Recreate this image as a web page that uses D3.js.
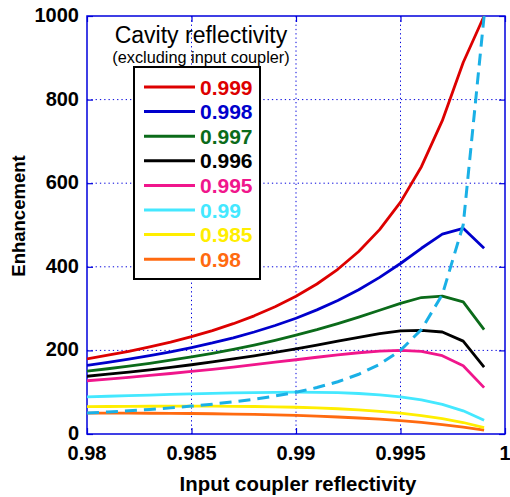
<!DOCTYPE html>
<html><head><meta charset="utf-8">
<script src="https://cdn.jsdelivr.net/npm/d3@7"></script>
<style>body{margin:0;background:#fff}svg{display:block}</style>
</head><body>
<script>
// Input coupler reflectivity (x)
const xValues = [0.980,0.981,0.982,0.983,0.984,0.985,0.986,0.987,0.988,0.989,0.990,0.991,0.992,0.993,0.994,0.995,0.996,0.997,0.998,0.999];
// Enhancement per cavity reflectivity
const e0999 = [179.9,188.5,197.9,208.4,220.0,233.0,247.5,263.9,282.7,304.3,329.4,358.9,394.0,436.5,488.9,554.8,639.5,749.6,888.7,1000.0];
const e0998 = [164.1,171.2,178.9,187.3,196.5,206.6,217.8,230.2,244.0,259.6,277.0,296.9,319.4,345.2,374.6,407.9,444.3,478.0,492.0,444.4];
const e0997 = [150.3,156.1,162.4,169.2,176.5,184.5,193.1,202.5,212.8,224.0,236.3,249.6,264.2,279.8,296.1,312.4,326.5,330.0,316.0,249.9];
const e0996 = [138.2,143.0,148.1,153.6,159.4,165.7,172.4,179.5,187.1,195.2,203.8,212.8,222.1,231.3,240.0,246.9,248.0,244.0,222.2,159.9];
const e0995 = [127.4,131.4,135.6,140.1,144.7,149.6,154.8,160.2,165.9,171.7,177.6,183.6,189.3,194.4,198.3,200.0,197.5,187.4,163.2,111.0];
const e0990 = [88.8,90.3,91.8,93.2,94.6,96.0,97.2,98.3,99.2,99.8,100.0,99.7,98.8,96.9,93.7,88.8,81.5,70.9,55.4,32.9];
const e0985 = [65.3,65.8,66.1,66.4,66.6,66.7,66.6,66.3,65.8,65.1,64.0,62.5,60.4,57.8,54.3,49.9,44.2,36.9,27.5,15.5];
const e0980 = [50.0,50.0,49.9,49.7,49.4,49.0,48.4,47.7,46.8,45.7,44.4,42.7,40.7,38.3,35.4,31.9,27.6,22.5,16.4,9.0];
// Impedance-matched (dashed)
const eMatched = [50.0,52.6,55.6,58.8,62.5,66.7,71.4,76.9,83.3,90.9,100.0,111.1,125.0,142.9,166.7,200.0,250.0,333.3,500.0,1000.0];

const seriesLabels = ["0.999","0.998","0.997","0.996","0.995","0.99","0.985","0.98"];
const seriesValues = [e0999,e0998,e0997,e0996,e0995,e0990,e0985,e0980];
const seriesColors = ["#dd0000","#0000cc","#0b6b1a","#000000","#f0168c","#44e8ff","#ffee00","#ff6a10"];
const xTicks = [0.98,0.985,0.99,0.995,1];
const xTickLabels = ["0.98","0.985","0.99","0.995","1"];
const yTicks = [0,200,400,600,800,1000];

const W=510,H=497;
const L=87,R=505,T=16,B=434;
const svg=d3.select("body").append("svg").attr("width",W).attr("height",H);
const x=d3.scaleLinear().domain([0.98,1]).range([L,R]);
const y=d3.scaleLinear().domain([0,1000]).range([B,T]);
const gridC="#0000dd";

// grid
const g=svg.append("g");
xTicks.slice(1,-1).forEach(v=>{
  g.append("line").attr("x1",x(v)).attr("x2",x(v)).attr("y1",T).attr("y2",B)
   .attr("stroke",gridC).attr("stroke-width",1).attr("stroke-dasharray","1.3,3");
});
yTicks.slice(1,-1).forEach(v=>{
  g.append("line").attr("x1",L).attr("x2",R).attr("y1",y(v)).attr("y2",y(v))
   .attr("stroke",gridC).attr("stroke-width",1).attr("stroke-dasharray","1.3,3");
});
// axes with inward ticks
const xAxB=svg.append("g").attr("transform",`translate(0,${B})`).call(d3.axisBottom(x).tickValues(xTicks).tickSize(-6).tickFormat(""));
const xAxT=svg.append("g").attr("transform",`translate(0,${T})`).call(d3.axisTop(x).tickValues(xTicks).tickSize(-6).tickFormat(""));
const yAxL=svg.append("g").attr("transform",`translate(${L},0)`).call(d3.axisLeft(y).tickValues(yTicks).tickSize(-6).tickFormat(""));
const yAxR=svg.append("g").attr("transform",`translate(${R},0)`).call(d3.axisRight(y).tickValues(yTicks).tickSize(-6).tickFormat(""));
[xAxB,xAxT,yAxL,yAxR].forEach(a=>{a.selectAll("path").remove();a.selectAll("line").attr("stroke",gridC).attr("stroke-width",1.2);});
svg.append("rect").attr("x",L).attr("y",T).attr("width",R-L).attr("height",B-T)
  .attr("fill","none").attr("stroke",gridC).attr("stroke-width",1.5);

// tick labels
const font="'Liberation Sans', Arial, Helvetica, sans-serif";
svg.append("g").selectAll("text").data(xTicks).join("text")
  .attr("x",d=>x(d)).attr("y",460).attr("text-anchor","middle")
  .attr("font-family",font).attr("font-weight","bold").attr("font-size",20)
  .text((d,i)=>xTickLabels[i]);
svg.append("g").selectAll("text").data(yTicks).join("text")
  .attr("x",79).attr("y",d=>y(d)+6).attr("text-anchor","end")
  .attr("font-family",font).attr("font-weight","bold").attr("font-size",20)
  .text(d=>d);
svg.append("text").attr("x",298).attr("y",491).attr("text-anchor","middle")
  .attr("font-family",font).attr("font-weight","bold").attr("font-size",20.4)
  .text("Input coupler reflectivity");
svg.append("text").attr("transform","translate(25,216) rotate(-90)").attr("text-anchor","middle")
  .attr("font-family",font).attr("font-weight","bold").attr("font-size",18.5)
  .text("Enhancement");

// clip
svg.append("clipPath").attr("id","clip").append("rect").attr("x",L).attr("y",T-2).attr("width",R-L).attr("height",B-T+2);
const line=d3.line().x((d,i)=>x(xValues[i])).y(d=>y(d));
const lines=svg.append("g").attr("clip-path","url(#clip)");
seriesValues.slice().reverse().forEach((vals,ri)=>{
  const i=seriesValues.length-1-ri;
  lines.append("path").datum(vals).attr("d",line).attr("fill","none")
    .attr("stroke",seriesColors[i]).attr("stroke-width",2.8).attr("stroke-linejoin","round");
});
lines.append("path").datum(eMatched).attr("d",line).attr("fill","none")
  .attr("stroke","#1ab0e6").attr("stroke-width",3).attr("stroke-dasharray","12,7");

// legend
svg.append("text").attr("x",201).attr("y",43).attr("text-anchor","middle")
  .attr("font-family",font).attr("font-size",23).text("Cavity reflectivity");
svg.append("text").attr("x",201).attr("y",63).attr("text-anchor","middle")
  .attr("font-family",font).attr("font-size",16.3).text("(excluding input coupler)");
svg.append("rect").attr("x",134).attr("y",67).attr("width",126).attr("height",212)
  .attr("fill","#fff").attr("stroke","#000").attr("stroke-width",2);
const leg=svg.append("g");
seriesLabels.forEach((lab,i)=>{
  const cy=87+i*24.6;
  leg.append("line").attr("x1",144).attr("x2",195).attr("y1",cy).attr("y2",cy)
    .attr("stroke",seriesColors[i]).attr("stroke-width",3);
  leg.append("text").attr("x",200).attr("y",cy+7.5).attr("font-family",font)
    .attr("font-weight","bold").attr("font-size",21).attr("fill",seriesColors[i]).text(lab);
});
</script>
</body></html>
